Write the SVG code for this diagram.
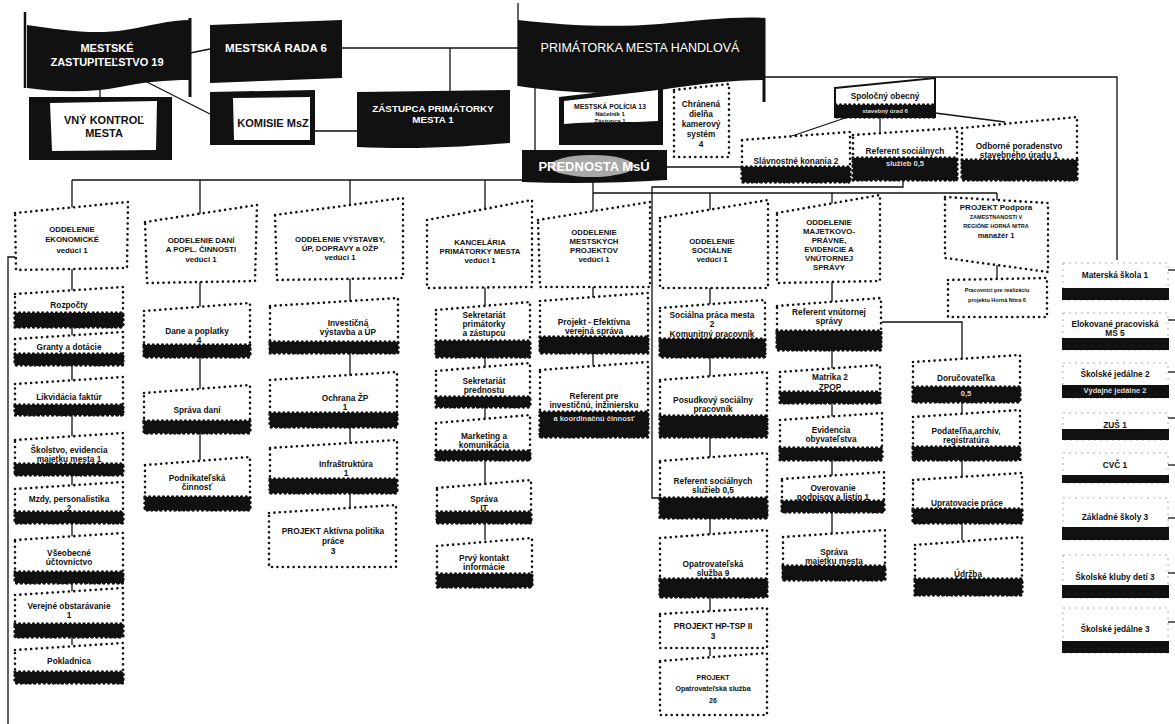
<svg xmlns="http://www.w3.org/2000/svg" width="1175" height="724" viewBox="0 0 1175 724">
<style>
.dot{fill:#fff;stroke:#111;stroke-width:2.6;stroke-dasharray:0 5.4;stroke-linecap:round}
.band{fill:#111;stroke:#111;stroke-width:3.4;stroke-dasharray:0 4.6;stroke-linecap:round}
.dk{fill:#111}
.wp{fill:#fff}
.ln{stroke:#111;stroke-width:1.3;fill:none}
.rb{fill:#fff;stroke:#999;stroke-width:0.8;stroke-dasharray:2 4}
.t{font-family:"Liberation Sans",Arial,sans-serif;font-weight:bold;font-size:8.3px;text-anchor:middle;fill:#111}
.h{font-family:"Liberation Sans",Arial,sans-serif;font-weight:bold;font-size:7.8px;text-anchor:middle;fill:#111}
.s{font-family:"Liberation Sans",Arial,sans-serif;font-weight:bold;font-size:5.5px;text-anchor:middle;fill:#111}
.wt{font-family:"Liberation Sans",Arial,sans-serif;font-weight:bold;font-size:11px;text-anchor:middle;fill:#fff}
.bt{font-family:"Liberation Sans",Arial,sans-serif;font-weight:bold;font-size:11px;text-anchor:middle;fill:#111}
.wi{font-family:"Liberation Sans",Arial,sans-serif;font-weight:bold;font-size:7.5px;text-anchor:middle;fill:#ddd}
</style>
<rect width="1175" height="724" fill="#fff"/>

<g id="connectors">
<line class="ln" x1="190" y1="53" x2="210" y2="49"/>
<line class="ln" x1="342" y1="48" x2="518" y2="48"/>
<line class="ln" x1="450" y1="48" x2="450" y2="91"/>
<line class="ln" x1="143" y1="80" x2="210" y2="114"/>
<line class="ln" x1="315" y1="131" x2="357" y2="131"/>
<line class="ln" x1="100" y1="88" x2="100" y2="98"/>
<line class="ln" x1="518" y1="3" x2="518" y2="86"/>
<line class="ln" x1="535" y1="86" x2="535" y2="152"/>
<line class="ln" x1="597" y1="86" x2="597" y2="96"/>
<line class="ln" x1="667" y1="167" x2="742" y2="167"/>
<polyline class="ln" points="765,77 1117,77 1117,260"/>
<line class="ln" x1="933" y1="77" x2="933" y2="80"/>
<line class="ln" x1="848" y1="117" x2="792" y2="136"/>
<line class="ln" x1="880" y1="117" x2="880" y2="133"/>
<line class="ln" x1="935" y1="113" x2="1005" y2="122"/>
<line class="ln" x1="72" y1="180" x2="593" y2="180"/>
<line class="ln" x1="593" y1="193" x2="997" y2="193"/>
<polyline class="ln" points="903,180 903,187 652,187 652,498 660,498"/>
<polyline class="ln" points="8,724 8,257 15,257"/>
<line class="ln" x1="72" y1="180" x2="72" y2="645"/>
<line class="ln" x1="200" y1="180" x2="200" y2="460"/>
<line class="ln" x1="350" y1="180" x2="350" y2="508"/>
<line class="ln" x1="485" y1="180" x2="485" y2="540"/>
<line class="ln" x1="593" y1="180" x2="593" y2="365"/>
<line class="ln" x1="710" y1="193" x2="710" y2="656"/>
<line class="ln" x1="832" y1="193" x2="832" y2="533"/>
<polyline class="ln" points="882,322 962,322 962,540"/>
<line class="ln" x1="997" y1="193" x2="997" y2="280"/>
<line class="ln" x1="1168" y1="270" x2="1175" y2="270"/>
<line class="ln" x1="1168" y1="320" x2="1175" y2="320"/>
<line class="ln" x1="1168" y1="372" x2="1175" y2="372"/>
<line class="ln" x1="1168" y1="418" x2="1175" y2="418"/>
<line class="ln" x1="1168" y1="465" x2="1175" y2="465"/>
<line class="ln" x1="1168" y1="518" x2="1175" y2="518"/>
<line class="ln" x1="1168" y1="573" x2="1175" y2="573"/>
<line class="ln" x1="1168" y1="622" x2="1175" y2="622"/>
</g>

<g id="zastupitelstvo">
<path class="dk" d="M27,25 C60,30 95,35 125,30 C150,26 170,20 190,20 L190,80 C165,80 145,82 120,87 C90,93 55,92 27,88 Z"/>
<line x1="25" y1="12" x2="25" y2="88" stroke="#111" stroke-width="2.5"/>
<line x1="190" y1="18" x2="190" y2="97" stroke="#111" stroke-width="3"/>
<text class="wt" x="107" y="52">MESTSKÉ</text>
<text class="wt" x="107" y="66">ZASTUPITEĽSTVO 19</text>
</g>
<g id="rada">
<polygon class="dk" points="210,25 342,20 342,78 210,83"/>
<text class="wt" x="276" y="52" style="font-size:11.5px">MESTSKÁ RADA 6</text>
</g>
<g id="kontrolor">
<rect class="dk" x="29" y="97" width="143" height="63"/>
<path class="wp" d="M50,103 L157,101 L156,150 L52,151 Z"/>
<text class="bt" x="104" y="124">VNÝ KONTROĽ</text>
<text class="bt" x="104" y="137">MESTA</text>
</g>
<g id="komisie">
<polygon class="dk" points="210,92 315,90 315,145 210,145"/>
<path class="wp" d="M233,98 L310,97 L310,140 L234,140 Z"/>
<text class="bt" x="273" y="127">KOMISIE MsZ</text>
</g>
<g id="zastupca">
<path class="dk" d="M357,92 L510,90 L510,143 C470,146 420,150 357,147 Z"/>
<text class="wt" x="433" y="112" style="font-size:9.8px">ZÁSTUPCA PRIMÁTORKY</text>
<text class="wt" x="433" y="123" style="font-size:9.8px">MESTA   1</text>
</g>
<g id="primatorka">
<path class="dk" d="M518,20 C560,25 610,28 660,24 C700,20 740,16 765,18 L765,80 C730,80 700,84 660,90 C610,96 560,92 518,86 Z"/>
<line x1="764" y1="18" x2="764" y2="102" stroke="#111" stroke-width="3"/>
<text class="wt" x="640" y="52" style="font-weight:normal;font-size:12.5px">PRIMÁTORKA MESTA HANDLOVÁ</text>
</g>
<g id="policia">
<polygon class="dk" points="559,97 663,85 663,145 559,145"/>
<path class="wp" d="M564,101 L658,90 L658,121 C630,123 600,121 564,124 Z"/>
<text class="t" x="610" y="109" style="font-size:6.8px">MESTSKÁ POLÍCIA 13</text>
<text class="t" x="610" y="116" style="font-size:6px">Náčelník 1</text>
<text class="t" x="610" y="123" style="font-size:6px">Zástupca 1</text>
</g>
<g id="chranena">
<polygon class="dot" points="674,90 729,84 729,157 674,157"/>
<text class="t" x="701" y="107">Chránená</text>
<text class="t" x="701" y="117">dielňa</text>
<text class="t" x="701" y="127">kamerový</text>
<text class="t" x="701" y="137">systém</text>
<text class="t" x="701" y="147">4</text>
</g>
<g id="prednosta">
<path class="dk" d="M522,150 L667,150 L667,180 C620,183 570,184 522,182 Z"/>
<ellipse cx="592" cy="166" rx="42" ry="11" fill="#a8a8a8"/>
<text class="wt" x="594" y="171" style="font-size:13px">PREDNOSTA MsÚ</text>
</g>

<g id="spolocny">
<polygon points="835,88 935,78 935,117 835,117" fill="#fff" stroke="#111" stroke-width="2"/>
<rect class="band" x="836" y="105" width="98" height="12"/>
<text class="t" x="885" y="99">Spoločný obecný</text>
<text class="wi" x="885" y="113" style="font-size:6px">stavebný úrad 6</text>
</g>
<g id="slavnostne">
<polygon class="dot" points="742,140 850,132 850,182 742,182"/>
<rect class="band" x="742" y="167" width="108" height="15"/>
<text class="t" x="796" y="164">Slávnostné konania 2</text>
</g>
<g id="ref-sou">
<polygon class="dot" points="853,135 957,128 957,180 853,180"/>
<rect class="band" x="853" y="158" width="104" height="22"/>
<text class="t" x="905" y="154">Referent sociálnych</text>
<text class="wi" x="905" y="166">služieb 0,5</text>
</g>
<g id="odborne">
<polygon class="dot" points="962,128 1077,117 1077,180 962,180"/>
<rect class="band" x="962" y="160" width="115" height="20"/>
<text class="t" x="1019" y="149">Odborné poradenstvo</text>
<text class="t" x="1019" y="158">stavebného úradu 1</text>
</g>

<g id="odd-ekonomicke">
<polygon class="dot" points="15,213 128,202 127,268 16,270"/>
<text class="h" x="72" y="232">ODDELENIE</text>
<text class="h" x="72" y="242">EKONOMICKÉ</text>
<text class="h" x="72" y="253">vedúci 1</text>
</g>
<g id="rozpocty"><polygon class="dot" points="15,294 123,287 123,327 15,327"/><rect class="band" x="15" y="313" width="108" height="14"/><text class="t" x="69" y="308">Rozpočty</text></g>
<g id="granty"><polygon class="dot" points="15,339 123,332 123,365 15,365"/><rect class="band" x="15" y="354" width="108" height="11"/><text class="t" x="69" y="350">Granty a dotácie</text></g>
<g id="likvidacia"><polygon class="dot" points="15,384 123,377 123,415 15,415"/><rect class="band" x="15" y="405" width="108" height="10"/><text class="t" x="69" y="400">Likvidácia faktúr</text></g>
<g id="skolstvo"><polygon class="dot" points="15,440 123,433 123,475 15,475"/><rect class="band" x="15" y="464" width="108" height="11"/><text class="t" x="69" y="453">Školstvo, evidencia</text><text class="t" x="69" y="462">majetku mesta 1</text></g>
<g id="mzdy"><polygon class="dot" points="15,489 123,482 123,523 15,523"/><rect class="band" x="15" y="512" width="108" height="11"/><text class="t" x="69" y="502">Mzdy, personalistika</text><text class="t" x="69" y="511">2</text></g>
<g id="uctovnictvo"><polygon class="dot" points="15,540 123,533 123,583 15,583"/><rect class="band" x="15" y="572" width="108" height="11"/><text class="t" x="69" y="556">Všeobecné</text><text class="t" x="69" y="565">účtovníctvo</text></g>
<g id="obstaravanie"><polygon class="dot" points="15,595 123,588 123,637 15,637"/><rect class="band" x="15" y="624" width="108" height="13"/><text class="t" x="69" y="609">Verejné obstarávanie</text><text class="t" x="69" y="618">1</text></g>
<g id="pokladnica"><polygon class="dot" points="15,650 123,643 123,683 15,683"/><rect class="band" x="15" y="672" width="108" height="11"/><text class="t" x="69" y="664">Pokladnica</text></g>

<g id="odd-dani">
<polygon class="dot" points="145,222 257,205 255,281 147,283"/>
<text class="h" x="201" y="243">ODDELENIE DANÍ</text>
<text class="h" x="201" y="252">A POPL. ČINNOSTI</text>
<text class="h" x="201" y="262">vedúci 1</text>
</g>
<g id="dane"><polygon class="dot" points="144,311 250,303 250,357 144,357"/><rect class="band" x="144" y="345" width="106" height="12"/><text class="t" x="197" y="334">Dane a poplatky</text><text class="t" x="199" y="343">4</text></g>
<g id="sprava-dani"><polygon class="dot" points="144,393 250,385 250,433 144,433"/><rect class="band" x="144" y="421" width="106" height="12"/><text class="t" x="197" y="413">Správa daní</text></g>
<g id="podnikatelska"><polygon class="dot" points="145,465 250,457 250,510 145,510"/><rect class="band" x="145" y="497" width="105" height="13"/><text class="t" x="197" y="481">Podnikateľská</text><text class="t" x="197" y="490">činnosť</text></g>

<g id="odd-vystavby">
<polygon class="dot" points="275,215 403,198 403,278 277,280"/>
<text class="h" x="340" y="242">ODDELENIE  VÝSTAVBY,</text>
<text class="h" x="340" y="251">ÚP, DOPRAVY a OŽP</text>
<text class="h" x="340" y="260">vedúci 1</text>
</g>
<g id="investicna"><polygon class="dot" points="270,306 398,298 398,353 270,353"/><rect class="band" x="270" y="342" width="128" height="11"/><text class="t" x="348" y="326">Investičná</text><text class="t" x="348" y="335">výstavba a ÚP</text></g>
<g id="ochrana"><polygon class="dot" points="270,380 397,372 397,427 270,427"/><rect class="band" x="270" y="413" width="127" height="14"/><text class="t" x="345" y="401">Ochrana ŽP</text><text class="t" x="345" y="410">1</text></g>
<g id="infrastruktura"><polygon class="dot" points="270,448 397,440 397,493 270,493"/><rect class="band" x="270" y="479" width="127" height="14"/><text class="t" x="346" y="467">Infraštruktúra</text><text class="t" x="346" y="476">1</text></g>
<g id="aktivna"><polygon class="dot" points="269,513 396,505 396,567 269,567"/><text class="t" x="333" y="534">PROJEKT Aktívna politika</text><text class="t" x="333" y="544">práce</text><text class="t" x="333" y="554">3</text></g>

<g id="kancelaria">
<polygon class="dot" points="427,220 532,200 532,287 427,288"/>
<text class="h" x="480" y="245">KANCELÁRIA</text>
<text class="h" x="480" y="254">PRIMÁTORKY MESTA</text>
<text class="h" x="480" y="263">vedúci 1</text>
</g>
<g id="sekr-prim"><polygon class="dot" points="436,310 530,302 530,357 436,357"/><rect class="band" x="436" y="341" width="94" height="16"/><text class="t" x="484" y="318">Sekretariát</text><text class="t" x="484" y="327">primátorky</text><text class="t" x="484" y="336">a zástupcu</text></g>
<g id="sekr-pred"><polygon class="dot" points="436,371 530,363 530,407 436,407"/><rect class="band" x="436" y="397" width="94" height="10"/><text class="t" x="484" y="384">Sekretariát</text><text class="t" x="484" y="393">prednostu</text></g>
<g id="marketing"><polygon class="dot" points="436,423 530,415 530,460 436,460"/><rect class="band" x="436" y="451" width="94" height="9"/><text class="t" x="484" y="439">Marketing a</text><text class="t" x="484" y="448">komunikácia</text></g>
<g id="sprava-it"><polygon class="dot" points="437,488 531,480 531,523 437,523"/><rect class="band" x="437" y="512" width="94" height="11"/><text class="t" x="484" y="502">Správa</text><text class="t" x="484" y="511">IT</text></g>
<g id="prvy-kontakt"><polygon class="dot" points="437,546 532,538 532,587 437,587"/><rect class="band" x="437" y="574" width="95" height="13"/><text class="t" x="484" y="561">Prvý kontakt</text><text class="t" x="484" y="570">informácie</text></g>

<g id="odd-projektov">
<polygon class="dot" points="538,220 650,202 650,287 540,287"/>
<text class="h" x="594" y="235">ODDELENIE</text>
<text class="h" x="594" y="244">MESTSKÝCH</text>
<text class="h" x="594" y="253">PROJEKTOV</text>
<text class="h" x="594" y="262">vedúci 1</text>
</g>
<g id="efektivna"><polygon class="dot" points="540,301 648,293 648,353 540,353"/><rect class="band" x="540" y="337" width="108" height="16"/><text class="t" x="594" y="325">Projekt - Efektívna</text><text class="t" x="594" y="334">verejná správa</text></g>
<g id="referent-inv"><polygon class="dot" points="540,370 648,362 648,437 540,437"/><rect class="band" x="540" y="412" width="108" height="25"/><text class="t" x="594" y="399">Referent pre</text><text class="t" x="594" y="408">investičnú, inžiniersku</text><text class="wi" x="594" y="421">a koordinačnú činnosť</text></g>

<g id="odd-socialne">
<polygon class="dot" points="660,218 768,200 768,288 660,288"/>
<text class="h" x="712" y="244">ODDELENIE</text>
<text class="h" x="712" y="253">SOCIÁLNE</text>
<text class="h" x="712" y="262">vedúci 1</text>
</g>
<g id="socialna-praca"><polygon class="dot" points="660,308 765,300 765,357 660,357"/><rect class="band" x="660" y="339" width="105" height="18"/><text class="t" x="712" y="318">Sociálna práca mesta</text><text class="t" x="712" y="327">2</text><text class="t" x="712" y="337">Komunitný pracovník</text></g>
<g id="posudkovy"><polygon class="dot" points="660,380 767,372 767,437 660,437"/><rect class="band" x="660" y="416" width="107" height="21"/><text class="t" x="713" y="403">Posudkový sociálny</text><text class="t" x="713" y="412">pracovník</text></g>
<g id="referent-soc"><polygon class="dot" points="660,461 767,453 767,518 660,518"/><rect class="band" x="660" y="498" width="107" height="20"/><text class="t" x="713" y="484">Referent sociálnych</text><text class="t" x="713" y="493">služieb 0,5</text></g>
<g id="opatrovatelska"><polygon class="dot" points="660,538 767,530 767,597 660,597"/><rect class="band" x="660" y="579" width="107" height="18"/><text class="t" x="713" y="567">Opatrovateľská</text><text class="t" x="713" y="576">služba 9</text></g>
<g id="hp-tsp"><polygon class="dot" points="660,614 767,608 767,648 660,648"/><text class="t" x="713" y="629">PROJEKT HP-TSP II</text><text class="t" x="713" y="639">3</text></g>
<g id="projekt-opatr"><polygon class="dot" points="660,661 767,653 767,715 660,715"/><text class="t" x="713" y="680" style="font-size:7px">PROJEKT</text><text class="t" x="713" y="691" style="font-size:7px">Opatrovateľská služba</text><text class="t" x="713" y="703" style="font-size:7px">26</text></g>

<g id="odd-majetkovo">
<polygon class="dot" points="777,213 880,195 880,281 777,283"/>
<text class="h" x="829" y="225">ODDELENIE</text>
<text class="h" x="829" y="234">MAJETKOVO-</text>
<text class="h" x="829" y="243">PRÁVNE,</text>
<text class="h" x="829" y="252">EVIDENCIE A</text>
<text class="h" x="829" y="261">VNÚTORNEJ</text>
<text class="h" x="829" y="270">SPRÁVY</text>
</g>
<g id="ref-vnutornej"><polygon class="dot" points="777,306 881,298 881,350 777,350"/><rect class="band" x="777" y="331" width="104" height="19"/><text class="t" x="829" y="315">Referent vnútornej</text><text class="t" x="829" y="324">správy</text></g>
<g id="matrika"><polygon class="dot" points="780,372 880,365 880,403 780,403"/><rect class="band" x="780" y="392" width="100" height="11"/><text class="t" x="830" y="380">Matrika 2</text><text class="t" x="830" y="390">ZPOP</text></g>
<g id="evidencia"><polygon class="dot" points="780,420 882,413 882,460 780,460"/><rect class="band" x="780" y="448" width="102" height="12"/><text class="t" x="831" y="433">Evidencia</text><text class="t" x="831" y="442">obyvateľstva</text></g>
<g id="overovanie"><polygon class="dot" points="782,479 884,472 884,512 782,512"/><rect class="band" x="782" y="501" width="102" height="11"/><text class="t" x="833" y="491">Overovanie</text><text class="t" x="833" y="500">podpisov a listín 1</text></g>
<g id="sprava-majetku"><polygon class="dot" points="783,537 885,530 885,580 783,580"/><rect class="band" x="783" y="566" width="102" height="14"/><text class="t" x="834" y="555">Správa</text><text class="t" x="834" y="564">majetku mesta</text></g>
<g id="dorucovatelka"><polygon class="dot" points="913,362 1020,355 1020,402 913,402"/><rect class="band" x="913" y="387" width="107" height="15"/><text class="t" x="966" y="381">Doručovateľka</text><text class="wi" x="966" y="396">0,5</text></g>
<g id="podatelna"><polygon class="dot" points="913,417 1020,410 1020,460 913,460"/><rect class="band" x="913" y="447" width="107" height="13"/><text class="t" x="966" y="434">Podateľňa,archív,</text><text class="t" x="966" y="443">registratúra</text></g>
<g id="upratovacie"><polygon class="dot" points="913,480 1022,473 1022,523 913,523"/><rect class="band" x="913" y="509" width="109" height="14"/><text class="t" x="967" y="506">Upratovacie práce</text></g>
<g id="udrzba"><polygon class="dot" points="915,545 1022,537 1022,595 915,595"/><rect class="band" x="915" y="579" width="107" height="16"/><text class="t" x="968" y="577">Údržba</text></g>

<g id="projekt-podpora">
<polygon class="dot" points="945,197 1048,203 1048,272 945,258"/>
<text class="t" x="996" y="210" style="font-size:8px">PROJEKT Podpora</text>
<text class="s" x="996" y="219">ZAMESTNANOSTI V</text>
<text class="s" x="996" y="228">REGIÓNE HORNÁ NITRA</text>
<text class="t" x="996" y="238" style="font-size:7.5px">manažér 1</text>
</g>
<g id="projekt-pracovnici">
<polygon class="dot" points="948,280 1047,278 1047,317 948,317"/>
<text class="s" x="997" y="292">Pracovníci pre realizáciu</text>
<text class="s" x="997" y="302">projektu Horná Nitra 6</text>
</g>

<g id="materska"><rect class="rb" x="1063" y="263" width="105" height="37"/><rect class="dk" x="1062" y="288" width="107" height="12"/><text class="t" x="1115" y="278">Materská škola 1</text></g>
<g id="elokovane"><rect class="rb" x="1063" y="313" width="105" height="37"/><rect class="dk" x="1062" y="338" width="107" height="12"/><text class="t" x="1115" y="327">Elokované pracoviská</text><text class="t" x="1115" y="336">MŠ 5</text></g>
<g id="skolske-jedalne2"><rect class="rb" x="1063" y="363" width="105" height="35"/><rect class="dk" x="1062" y="385" width="107" height="13"/><text class="t" x="1115" y="377">Školské jedálne 2</text><text class="wi" x="1115" y="393">Výdajné jedálne 2</text></g>
<g id="zus"><rect class="rb" x="1063" y="413" width="105" height="27"/><rect class="dk" x="1062" y="429" width="107" height="11"/><text class="t" x="1115" y="428">ZUŠ    1</text></g>
<g id="cvc"><rect class="rb" x="1063" y="453" width="105" height="30"/><rect class="dk" x="1062" y="475" width="107" height="8"/><text class="t" x="1115" y="468">CVČ  1</text></g>
<g id="zakladne"><rect class="rb" x="1063" y="498" width="105" height="42"/><rect class="dk" x="1062" y="527" width="107" height="13"/><text class="t" x="1115" y="520">Základné školy 3</text></g>
<g id="kluby"><rect class="rb" x="1063" y="555" width="105" height="43"/><rect class="dk" x="1062" y="585" width="107" height="13"/><text class="t" x="1115" y="580">Školské kluby detí 3</text></g>
<g id="skolske-jedalne3"><rect class="rb" x="1063" y="608" width="105" height="45"/><rect class="dk" x="1062" y="641" width="107" height="12"/><text class="t" x="1115" y="632">Školské jedálne 3</text></g>
</svg>
